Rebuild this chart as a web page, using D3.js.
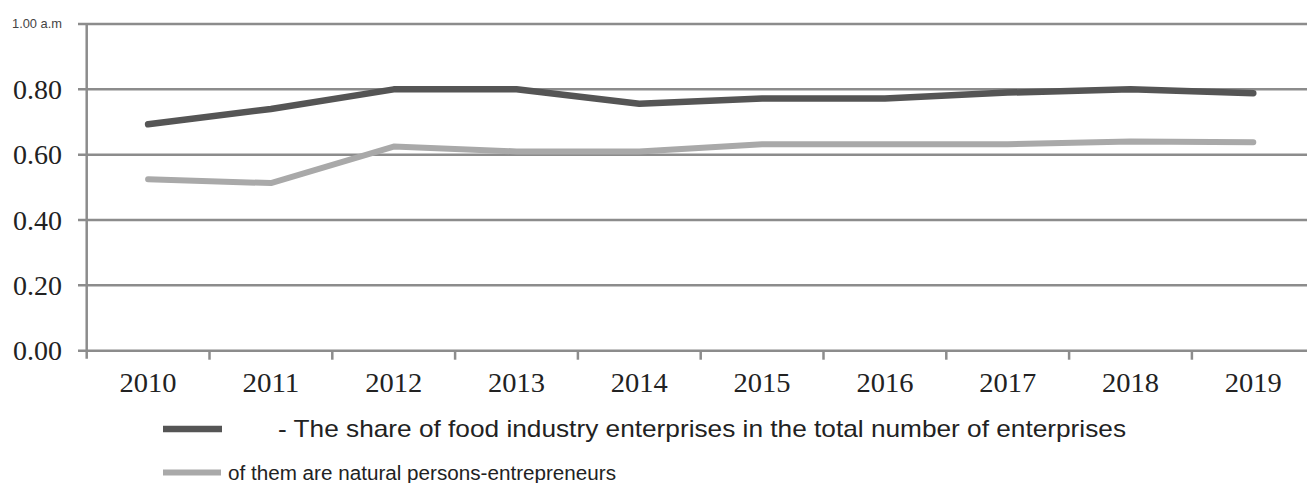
<!DOCTYPE html>
<html>
<head>
<meta charset="utf-8">
<script src="https://cdn.jsdelivr.net/npm/d3@7"></script>
<style>
  html, body { margin: 0; padding: 0; background: #fff; }
  svg { display: block; }
</style>
</head>
<body>
<svg id="chart" width="1307" height="483"></svg>
<script>
const years = ["2010","2011","2012","2013","2014","2015","2016","2017","2018","2019"];
const shareTotal = [0.693, 0.74, 0.80, 0.80, 0.756, 0.772, 0.772, 0.79, 0.80, 0.788];
const shareNatural = [0.525, 0.513, 0.625, 0.61, 0.61, 0.632, 0.632, 0.632, 0.64, 0.638];
const yTicks = [0, 0.2, 0.4, 0.6, 0.8, 1.0];
const yTickLabels = ["0.00", "0.20", "0.40", "0.60", "0.80", "1.00 a.m"];
const legendLabels = [
  "- The share of food industry enterprises in the total number of enterprises",
  "of them are natural persons-entrepreneurs"
];

(function () {
const svg = d3.select("#chart");
const plotLeft = 86.7, plotRight = 86.7 + 122.8 * 10;
const plotTop = 24, plotBottom = 350.7;
const gridColor = "#8c8c8c";

const x = d3.scaleBand().domain(years).range([plotLeft, plotRight]).padding(0);
const y = d3.scaleLinear().domain([0, 1]).range([plotBottom, plotTop]);

// horizontal gridlines
svg.append("g").selectAll("line").data(yTicks).join("line")
  .attr("x1", 78).attr("x2", 1307)
  .attr("y1", d => y(d)).attr("y2", d => y(d))
  .attr("stroke", gridColor).attr("stroke-width", 2.5);

// vertical axis line
svg.append("line")
  .attr("x1", plotLeft).attr("x2", plotLeft)
  .attr("y1", plotTop).attr("y2", plotBottom + 8)
  .attr("stroke", gridColor).attr("stroke-width", 2.5);

// x ticks at band boundaries
svg.append("g").selectAll("line").data(years.slice(1)).join("line")
  .attr("x1", d => x(d)).attr("x2", d => x(d))
  .attr("y1", plotBottom).attr("y2", plotBottom + 9)
  .attr("stroke", gridColor).attr("stroke-width", 2.5);

// y labels
svg.append("g").selectAll("text").data(yTicks.slice(0, 5)).join("text")
  .attr("x", 62).attr("y", d => y(d) + 9.5)
  .attr("text-anchor", "end")
  .attr("font-family", "'Liberation Serif', 'DejaVu Serif', serif")
  .attr("font-size", 27).attr("fill", "#222")
  .attr("textLength", 49).attr("lengthAdjust", "spacingAndGlyphs")
  .text((d, i) => yTickLabels[i]);

svg.append("text")
  .attr("x", 62).attr("y", y(1) + 4)
  .attr("text-anchor", "end")
  .attr("font-family", "'Liberation Sans', Arial, sans-serif")
  .attr("font-size", 13).attr("fill", "#444")
  .attr("textLength", 50).attr("lengthAdjust", "spacingAndGlyphs")
  .text(yTickLabels[5]);

// x labels
svg.append("g").selectAll("text").data(years).join("text")
  .attr("x", d => x(d) + x.bandwidth() / 2).attr("y", 392)
  .attr("text-anchor", "middle")
  .attr("font-family", "'Liberation Serif', 'DejaVu Serif', serif")
  .attr("font-size", 27).attr("fill", "#222")
  .attr("textLength", 57).attr("lengthAdjust", "spacingAndGlyphs")
  .text(d => d);

// lines
const line = d3.line()
  .x((d, i) => x(years[i]) + x.bandwidth() / 2)
  .y(d => y(d));

svg.append("path").datum(shareNatural)
  .attr("d", line).attr("fill", "none")
  .attr("stroke", "#a9a9a9").attr("stroke-width", 6)
  .attr("stroke-linejoin", "round").attr("stroke-linecap", "round");

svg.append("path").datum(shareTotal)
  .attr("d", line).attr("fill", "none")
  .attr("stroke", "#555555").attr("stroke-width", 6.5)
  .attr("stroke-linejoin", "round").attr("stroke-linecap", "round");

// legend
svg.append("line").attr("x1", 163).attr("x2", 222).attr("y1", 429).attr("y2", 429)
  .attr("stroke", "#555555").attr("stroke-width", 6.5);
svg.append("text").attr("x", 278).attr("y", 437)
  .attr("font-family", "'Liberation Sans', Arial, sans-serif")
  .attr("font-size", 24).attr("fill", "#222")
  .attr("textLength", 848).attr("lengthAdjust", "spacingAndGlyphs")
  .text(legendLabels[0]);

svg.append("line").attr("x1", 163).attr("x2", 221).attr("y1", 472.5).attr("y2", 472.5)
  .attr("stroke", "#a9a9a9").attr("stroke-width", 6);
svg.append("text").attr("x", 228).attr("y", 479.5)
  .attr("font-family", "'Liberation Sans', Arial, sans-serif")
  .attr("font-size", 20).attr("fill", "#222")
  .attr("textLength", 388).attr("lengthAdjust", "spacingAndGlyphs")
  .text(legendLabels[1]);
})();
</script>
</body>
</html>
